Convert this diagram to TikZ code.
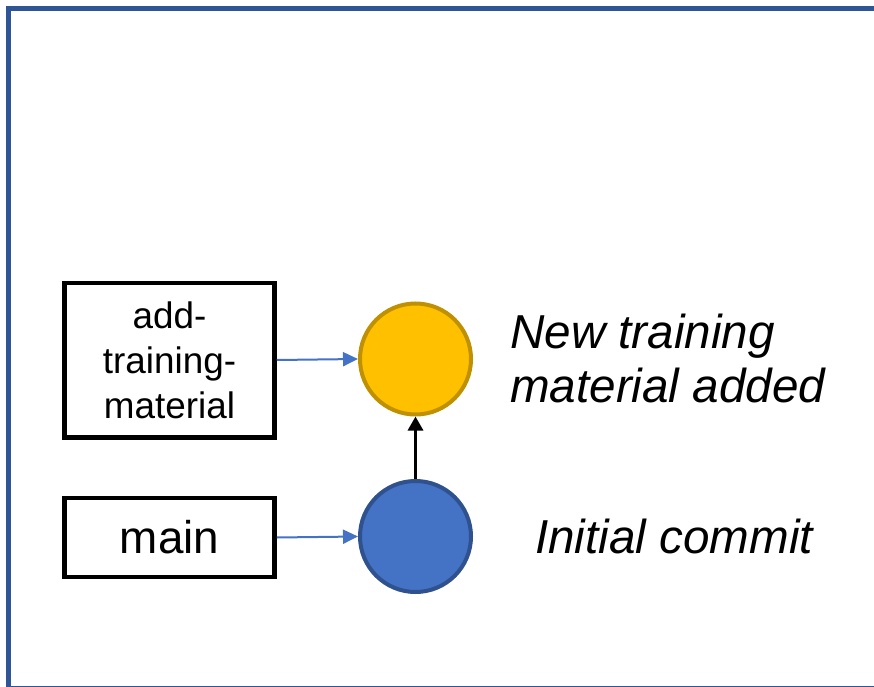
\documentclass[tikz,border=0pt]{standalone}
\usepackage{fontspec}
\setmainfont{Liberation Sans}
\usetikzlibrary{arrows.meta}
\definecolor{framec}{HTML}{2F5597}
\definecolor{yel}{HTML}{FFC000}
\definecolor{yeld}{HTML}{BF9000}
\definecolor{blu}{HTML}{4472C4}
\definecolor{blud}{HTML}{2F528F}
\tikzset{
  branchbox/.style={draw=black, line width=4.5bp, align=center, inner sep=0pt,
    minimum width=210bp, font=\fontsize{37}{45}\selectfont},
  commit/.style={circle, minimum size=111bp, line width=4bp, inner sep=0pt},
  ptr/.style={blu, line width=2bp, -{Triangle[length=15bp,width=14bp]}},
  parent/.style={black, line width=3.2bp, -{Triangle[length=14bp,width=15bp]}},
  lbl/.style={font=\fontsize{47.8}{54}\selectfont\itshape, align=left, inner sep=0pt}
}
\begin{document}
\begin{tikzpicture}[x=1bp,y=-1bp]
\useasboundingbox (0,0) rectangle (874,687);
\begin{scope}
\clip (0,0) rectangle (874,687);
\draw[framec, line width=5bp] (8.5,8.5) rectangle (900,688);
\end{scope}
\node[branchbox, minimum height=154.5bp] (feat) at (169.5,360) {add-\\training-\\material};
\node[branchbox, minimum height=79bp, font=\fontsize{46}{52}\selectfont] (main) at (169.5,537.5) {main};
\node[commit, fill=yel, draw=yeld] (c2) at (415.5,359) {};
\node[commit, fill=blu, draw=blud] (c1) at (415.5,536.5) {};
\draw[ptr] (feat.east) -- (c2.west);
\draw[ptr] (main.east) -- (c1.west);
\draw[parent] (c1.north) -- (c2.south);
\node[lbl, anchor=base west] (l2) at (510,402) {New training\\material added};
\node[lbl, anchor=base west] (l1) at (535,553) {Initial commit};
\end{tikzpicture}
\end{document}
